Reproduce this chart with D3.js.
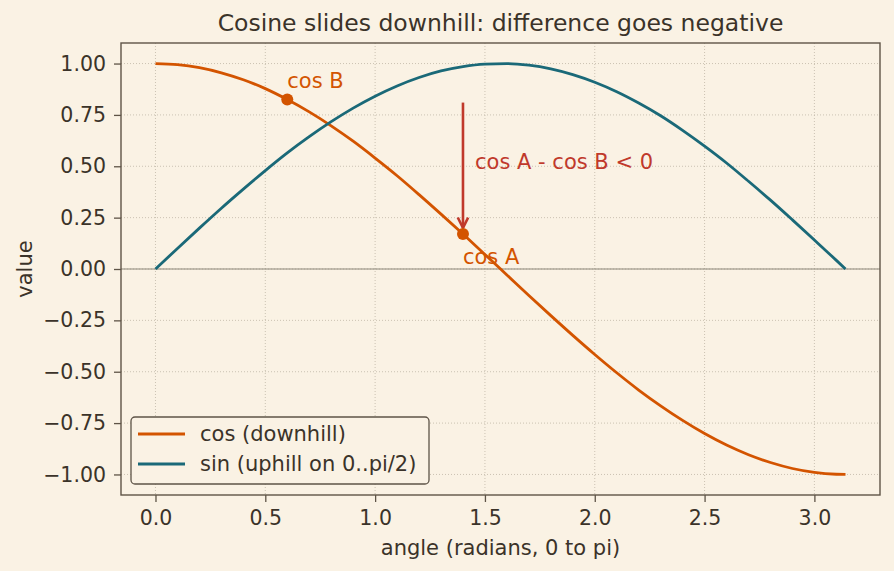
<!DOCTYPE html>
<meta charset="utf-8">
<style>
body { margin: 0; background: #faf2e4; }
svg { font-family: "DejaVu Sans", sans-serif; }
.axis path, .axis line { stroke: #5e5447; stroke-width: 1.3; }
.grid line { stroke: #bfb6a6; stroke-dasharray: 1,2; stroke-width: 0.8; }
</style>
<svg width="894" height="571"></svg>
<script src="https://d3js.org/d3.v7.min.js"></script>
<script>
// angles sampled along 0..pi
var angles = [0.0,0.1,0.2,0.3,0.4,0.5,0.6,0.7,0.8,0.9,1.0,1.1,1.2,1.3,1.4,1.5,1.6,1.7,1.8,1.9,2.0,2.1,2.2,2.3,2.4,2.5,2.6,2.7,2.8,2.9,3.0,3.1,3.1416];
var cosVals = [1.000,0.995,0.980,0.955,0.921,0.878,0.825,0.765,0.697,0.622,0.540,0.454,0.362,0.267,0.170,0.071,-0.029,-0.129,-0.227,-0.323,-0.416,-0.505,-0.589,-0.666,-0.737,-0.801,-0.857,-0.904,-0.942,-0.971,-0.990,-0.999,-1.000];
var sinVals = [0.000,0.100,0.199,0.296,0.389,0.479,0.565,0.644,0.717,0.783,0.841,0.891,0.932,0.964,0.985,0.997,1.000,0.992,0.974,0.946,0.909,0.863,0.808,0.746,0.675,0.598,0.516,0.427,0.335,0.239,0.141,0.042,0.000];
var markedPts = [{name:"cos B", x:0.6, y:0.825}, {name:"cos A", x:1.4, y:0.170}];
var xTicks = [0.0,0.5,1.0,1.5,2.0,2.5,3.0];
var yTicks = [-1.0,-0.75,-0.5,-0.25,0,0.25,0.5,0.75,1.0];
var seriesNames = ["cos (downhill)", "sin (uphill on 0..pi/2)"];

var cosColor = "#d35400", sinColor = "#1a6978", arrowColor = "#c0392b", ink = "#3b3329";

var svg = d3.select("svg"),
    margin = {top: 43, right: 14, bottom: 76, left: 121},
    width = +svg.attr("width") - margin.left - margin.right,
    height = +svg.attr("height") - margin.top - margin.bottom;

var x = d3.scaleLinear().domain([-0.157, 3.2987]).range([0, width]);
var y = d3.scaleLinear().domain([-1.1, 1.1]).range([height, 0]);

var g = svg.append("g").attr("transform", "translate(" + margin.left + "," + margin.top + ")");

// grid
var grid = g.append("g").attr("class", "grid");
grid.selectAll(".gx").data(xTicks).enter().append("line")
    .attr("x1", d => x(d)).attr("x2", d => x(d)).attr("y1", 0).attr("y2", height);
grid.selectAll(".gy").data(yTicks).enter().append("line")
    .attr("y1", d => y(d)).attr("y2", d => y(d)).attr("x1", 0).attr("x2", width);

// zero line
g.append("line").attr("x1", 0).attr("x2", width).attr("y1", y(0)).attr("y2", y(0))
    .attr("stroke", "#8c8578").attr("stroke-width", 1.2);

var line = d3.line().x(d => x(d[0])).y(d => y(d[1])).curve(d3.curveMonotoneX);

g.append("path").datum(d3.zip(angles, cosVals)).attr("d", line)
    .attr("fill", "none").attr("stroke", cosColor).attr("stroke-width", 2.8);
g.append("path").datum(d3.zip(angles, sinVals)).attr("d", line)
    .attr("fill", "none").attr("stroke", sinColor).attr("stroke-width", 2.8);

// arrow
svg.append("defs").append("marker").attr("id", "arr")
    .attr("viewBox", "0 0 10 10").attr("refX", 9).attr("refY", 5)
    .attr("markerWidth", 5).attr("markerHeight", 5).attr("orient", "auto")
  .append("path").attr("d", "M1,1 L9,5 L1,9").attr("fill", "none")
    .attr("stroke", arrowColor).attr("stroke-width", 2);
g.append("line").attr("x1", x(1.4)).attr("x2", x(1.4))
    .attr("y1", y(0.81)).attr("y2", y(0.2))
    .attr("stroke", arrowColor).attr("stroke-width", 2.6).attr("marker-end", "url(#arr)");
g.append("text").attr("x", x(1.455)).attr("y", y(0.522)).attr("dy", "0.35em")
    .attr("fill", arrowColor).style("font-size", "21px").text("cos A - cos B < 0");

// points
g.selectAll(".pt").data(markedPts).enter().append("circle")
    .attr("cx", d => x(d.x)).attr("cy", d => y(d.y)).attr("r", 6).attr("fill", cosColor);
g.selectAll(".lbl").data(markedPts).enter().append("text")
    .attr("x", d => x(d.x))
    .attr("y", d => d.name == "cos B" ? y(d.y) - 12 : y(d.y) + 30)
    .attr("fill", cosColor).style("font-size", "21px").text(d => d.name);

// axes
var xAxis = g.append("g").attr("class", "axis").attr("transform", "translate(0," + height + ")")
    .call(d3.axisBottom(x).tickValues(xTicks).tickFormat(d3.format(".1f")).tickSize(7).tickPadding(8));
var yAxis = g.append("g").attr("class", "axis")
    .call(d3.axisLeft(y).tickValues(yTicks).tickFormat(d => d3.format(".2f")(d).replace("-", "\u2212")).tickSize(7).tickPadding(8));
g.selectAll(".axis text").style("font-size", "20.5px").style("font-family", "DejaVu Sans").attr("fill", ink);
g.selectAll(".axis .domain").remove();
g.append("rect").attr("width", width).attr("height", height)
    .attr("fill", "none").attr("stroke", "#5e5447").attr("stroke-width", 1.4);

// legend
var leg = g.append("g").attr("transform", "translate(10," + (height - 78) + ")");
leg.append("rect").attr("width", 298).attr("height", 67).attr("rx", 4)
    .attr("fill", "#faf2e4").attr("stroke", "#5e5447").attr("stroke-width", 1.3);
var legColors = [cosColor, sinColor];
seriesNames.forEach(function(n, i) {
    var ly = 17 + i * 30;
    leg.append("line").attr("x1", 7).attr("x2", 54).attr("y1", ly).attr("y2", ly)
        .attr("stroke", legColors[i]).attr("stroke-width", 2.8);
    leg.append("text").attr("x", 69).attr("y", ly).attr("dy", "0.35em")
        .attr("fill", ink).style("font-size", "21px").text(n);
});

// titles
svg.append("text").attr("x", margin.left + width / 2).attr("y", 31).attr("text-anchor", "middle")
    .attr("fill", ink).style("font-size", "23.5px").text("Cosine slides downhill: difference goes negative");
svg.append("text").attr("x", margin.left + width / 2).attr("y", 555).attr("text-anchor", "middle")
    .attr("fill", ink).style("font-size", "21px").text("angle (radians, 0 to pi)");
svg.append("text").attr("transform", "translate(32," + (margin.top + y(0)) + ") rotate(-90)")
    .attr("text-anchor", "middle").attr("fill", ink).style("font-size", "21px").text("value");
</script>
